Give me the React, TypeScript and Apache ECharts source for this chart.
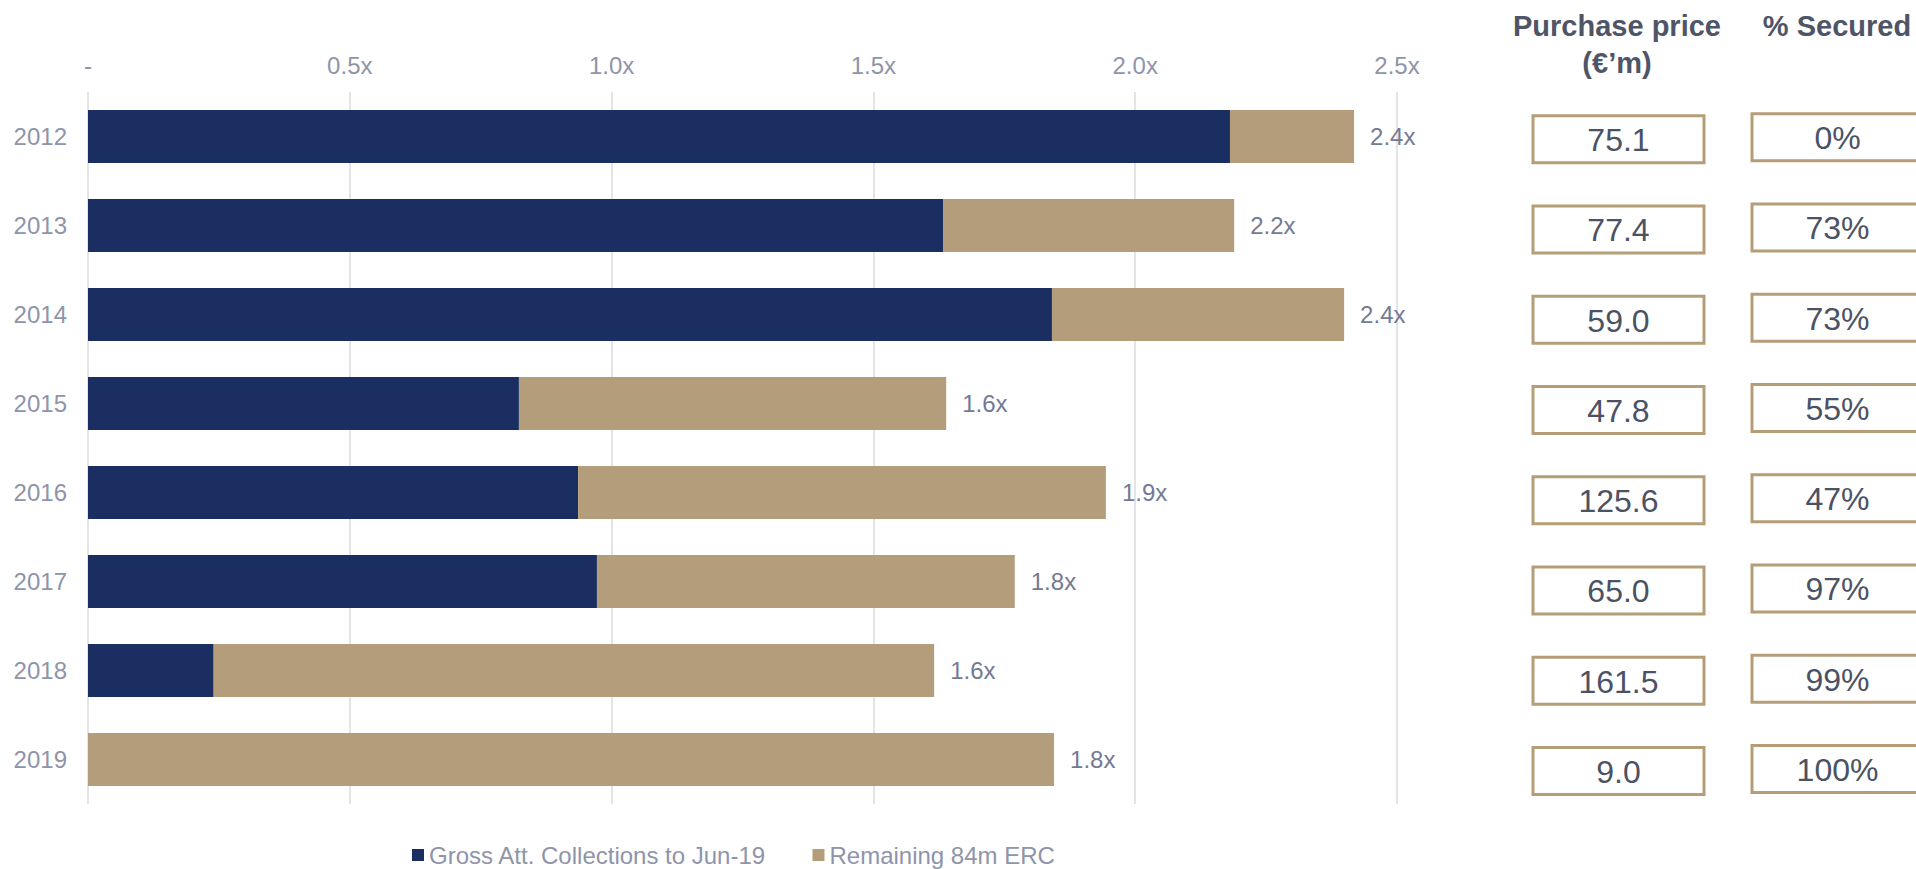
import React, { useEffect, useRef } from "react";
import * as echarts from "echarts";

const years = ["2012", "2013", "2014", "2015", "2016", "2017", "2018", "2019"];
const grossCollections = [2.181, 1.633, 1.841, 0.823, 0.936, 0.972, 0.24, 0];
const remainingERC = [0.237, 0.556, 0.558, 0.816, 1.008, 0.798, 1.376, 1.845];
const xTickLabels = ["-", "0.5x", "1.0x", "1.5x", "2.0x", "2.5x"];
const purchasePrice = ["75.1", "77.4", "59.0", "47.8", "125.6", "65.0", "161.5", "9.0"];
const securedPct = ["0%", "73%", "73%", "55%", "47%", "97%", "99%", "100%"];
const seriesNames = ["Gross Att. Collections to Jun-19", "Remaining 84m ERC"];
const headers = ["Purchase price", "(\u20AC\u2019m)", "% Secured"];

const FONT = "'Liberation Sans', Arial, sans-serif";
const NAVY = "#1B2E62";
const TAN = "#B49D7A";
const AXIS_TXT = "#8E94AA";
const BOX_W = 171;
const BOX_H = 47;

export default function App() {
  const ref = useRef<HTMLDivElement>(null);
  useEffect(() => {
    document.body.style.margin = "0";
    document.body.style.overflow = "hidden";
    if (!ref.current) return;
    const chart = echarts.init(ref.current, null, { renderer: "svg" });
    const totals = grossCollections.map((g, i) => g + remainingERC[i]);

    const boxSeries = (name: string, col: number, texts: string[], dy: number) => ({
      name,
      type: "custom",
      xAxisIndex: 1,
      yAxisIndex: 1,
      silent: true,
      data: years.map((y) => [col, y]),
      renderItem: (params: any, api: any) => {
        const c = api.coord([api.value(0), api.value(1)]);
        const cx = c[0];
        const cy = c[1] + dy;
        return {
          type: "group",
          children: [
            {
              type: "rect",
              shape: { x: cx - BOX_W / 2, y: cy - BOX_H / 2, width: BOX_W, height: BOX_H },
              style: { fill: "#ffffff", stroke: "#B59D78", lineWidth: 3 },
            },
            {
              type: "text",
              x: cx,
              y: cy + 1,
              style: {
                text: texts[params.dataIndex],
                align: "center",
                verticalAlign: "middle",
                fontSize: 32,
                fill: "#4B5264",
                fontFamily: FONT,
              },
            },
          ],
        };
      },
    });

    const headerText = (text: string, x: number, y: number) => ({
      type: "text",
      x,
      y,
      style: {
        text,
        align: "center",
        verticalAlign: "middle",
        fontSize: 29,
        fontWeight: "bold",
        fill: "#4E5567",
        fontFamily: FONT,
      },
    });

    chart.setOption({
      animation: false,
      textStyle: { fontFamily: FONT },
      grid: [
        { left: 88, width: 1309, top: 92, height: 712 },
        { left: 1618.5, width: 219, top: 94, height: 722 },
      ],
      legend: {
        data: seriesNames,
        left: 407,
        top: 838,
        icon: "rect",
        itemWidth: 12,
        itemHeight: 12,
        itemGap: 46,
        textStyle: { fontSize: 24, color: AXIS_TXT, fontFamily: FONT },
        selectedMode: false,
      },
      xAxis: [
        {
          gridIndex: 0,
          type: "value",
          position: "top",
          min: 0,
          max: 2.5,
          interval: 0.5,
          axisLine: { show: false },
          axisTick: { show: false },
          splitLine: { show: true, lineStyle: { color: "#E3E3E8", width: 2 } },
          axisLabel: {
            fontSize: 24,
            color: AXIS_TXT,
            margin: 15,
            formatter: (_v: number, idx: number) => xTickLabels[idx],
          },
        },
        { gridIndex: 1, type: "value", min: 0, max: 1, show: false },
      ],
      yAxis: [
        {
          gridIndex: 0,
          type: "category",
          data: years,
          inverse: true,
          axisLine: { show: false },
          axisTick: { show: false },
          axisLabel: { fontSize: 24, color: AXIS_TXT, margin: 21 },
        },
        { gridIndex: 1, type: "category", data: years, inverse: true, show: false },
      ],
      series: [
        {
          name: seriesNames[0],
          type: "bar",
          stack: "total",
          barWidth: 53,
          itemStyle: { color: NAVY },
          data: grossCollections,
          silent: true,
        },
        {
          name: seriesNames[1],
          type: "bar",
          stack: "total",
          barWidth: 53,
          itemStyle: { color: TAN },
          data: remainingERC,
          silent: true,
          label: {
            show: true,
            position: "right",
            distance: 16,
            fontSize: 24,
            color: "#737A94",
            formatter: (p: any) => totals[p.dataIndex].toFixed(1) + "x",
          },
        },
        boxSeries("pp", 0, purchasePrice, 0),
        boxSeries("sec", 1, securedPct, -2),
      ],
      graphic: [
        headerText(headers[0], 1617, 26),
        headerText(headers[1], 1617, 63),
        headerText(headers[2], 1837, 26),
      ],
    });
    return () => chart.dispose();
  }, []);
  return <div ref={ref} style={{ width: 1916, height: 869 }} />;
}
